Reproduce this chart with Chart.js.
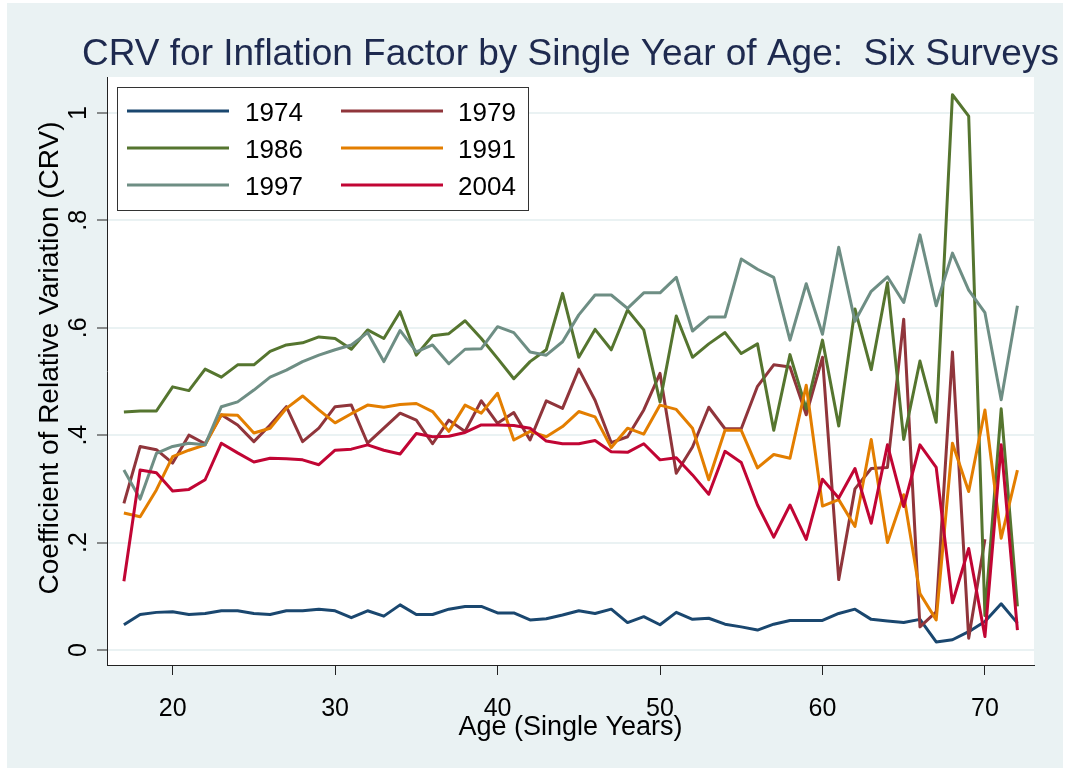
<!DOCTYPE html>
<html lang="en">
<head>
<meta charset="UTF-8">
<title>CRV for Inflation Factor by Single Year of Age</title>
<script src="https://cdn.jsdelivr.net/npm/chart.js"></script>
<style>
  html, body { margin: 0; padding: 0; background: #fff; }
  canvas { display: block; }
</style>
</head>
<body>
<canvas id="grafico" width="1070" height="769"></canvas>
<script>
  // ages 17..72, one value per single year of age
  const ages = [17, 18, 19, 20, 21, 22, 23, 24, 25, 26, 27, 28, 29, 30, 31, 32, 33, 34, 35, 36,
    37, 38, 39, 40, 41, 42, 43, 44, 45, 46, 47, 48, 49, 50, 51, 52, 53, 54, 55, 56,
    57, 58, 59, 60, 61, 62, 63, 64, 65, 66, 67, 68, 69, 70, 71, 72];

  const crv1974 = [.047, .066, .070, .071, .066, .068, .073, .073, .068, .066, .073, .073, .076, .073, .060, .073, .063, .084, .066, .066,
    .076, .081, .081, .069, .069, .056, .058, .065, .073, .068, .076, .051, .062, .047, .070, .057, .059, .048, .043, .037,
    .048, .055, .055, .055, .068, .076, .057, .054, .051, .057, .015, .019, .034, .053, .086, .050];
  // 1979 has no values past age 70
  const crv1979 = [.273, .379, .373, .348, .400, .384, .438, .419, .388, .419, .453, .388, .413, .453, .456, .385, .413, .441, .428, .384,
    .428, .407, .464, .422, .442, .391, .464, .450, .523, .465, .386, .397, .447, .515, .329, .378, .452, .412, .412, .491,
    .531, .527, .438, .545, .131, .300, .338, .340, .616, .043, .071, .555, .022, .206, null, null];
  const crv1986 = [.443, .445, .445, .490, .483, .523, .508, .531, .531, .556, .568, .572, .583, .580, .560, .596, .580, .630, .549, .585,
    .589, .613, .580, .543, .505, .537, .559, .664, .545, .597, .559, .633, .596, .462, .622, .545, .570, .591, .552, .570,
    .409, .550, .449, .577, .417, .635, .522, .684, .392, .538, .424, 1.034, .994, .064, .449, .081];
  const crv1991 = [.255, .248, .298, .360, .372, .382, .438, .437, .404, .413, .450, .473, .447, .423, .440, .456, .452, .457, .459, .444,
    .407, .456, .441, .478, .391, .407, .397, .416, .444, .434, .377, .413, .402, .456, .448, .413, .317, .409, .409, .339,
    .364, .357, .493, .268, .280, .230, .392, .200, .289, .105, .056, .385, .295, .447, .208, .335];
  const crv1997 = [.335, .281, .366, .379, .385, .382, .453, .462, .484, .508, .521, .537, .549, .559, .568, .591, .537, .595, .555, .568,
    .533, .560, .561, .602, .591, .555, .549, .574, .624, .661, .661, .636, .665, .665, .694, .594, .620, .620, .728, .709,
    .694, .577, .682, .588, .750, .612, .668, .695, .647, .773, .641, .739, .670, .628, .466, .641];
  const crv2004 = [.128, .335, .330, .296, .299, .317, .385, .367, .350, .357, .356, .354, .345, .372, .374, .382, .372, .365, .403, .397,
    .398, .405, .419, .419, .418, .413, .389, .384, .384, .390, .369, .368, .384, .354, .358, .326, .290, .370, .349, .270,
    .210, .270, .206, .318, .283, .338, .236, .382, .267, .382, .340, .088, .189, .025, .382, .037];

  const surveys = ['1974', '1979', '1986', '1991', '1997', '2004'];
  const colors = ['#1a476f', '#90353b', '#55752f', '#e37e00', '#6e8e84', '#c10534'];
  const valores = [crv1974, crv1979, crv1986, crv1991, crv1997, crv2004];

  const xTicks = [20, 30, 40, 50, 60, 70];
  const yTicks = [0, 0.2, 0.4, 0.6, 0.8, 1];
  const yTickLabels = ['0', '.2', '.4', '.6', '.8', '1'];

  const fundo = '#eaf2f3';
  const fonte = "'Liberation Sans', Arial, sans-serif";

  const datasets = surveys.map((nome, i) => ({
    label: nome,
    data: ages.map((a, j) => ({ x: a, y: valores[i][j] })),
    borderColor: colors[i],
    backgroundColor: colors[i],
    borderWidth: 3,
    borderJoinStyle: 'round',
    pointRadius: 0,
    tension: 0,
    spanGaps: false,
    order: surveys.length - i
  }));

  const estiloStata = {
    id: 'estiloStata',
    beforeDraw(chart) {
      const ctx = chart.ctx, a = chart.chartArea;
      ctx.save();
      ctx.fillStyle = '#fff';
      ctx.fillRect(0, 0, chart.width, chart.height);
      ctx.fillStyle = fundo;
      ctx.fillRect(7, 3, 1056, 765);
      ctx.fillStyle = '#fff';
      ctx.fillRect(a.left, a.top, a.right - a.left, a.bottom - a.top);
      ctx.restore();
    },
    afterDatasetsDraw(chart) {
      // legenda
      const ctx = chart.ctx;
      ctx.save();
      ctx.fillStyle = '#fff';
      ctx.fillRect(117, 87, 412, 124);
      ctx.strokeStyle = '#333';
      ctx.lineWidth = 1;
      ctx.strokeRect(117.5, 87.5, 411, 123);
      const rows = [111, 148, 185];
      const cols = [[127, 229, 245], [341, 443, 458]];
      ctx.font = '26px ' + fonte;
      ctx.textBaseline = 'alphabetic';
      ctx.textAlign = 'left';
      surveys.forEach((nome, i) => {
        const r = rows[Math.floor(i / 2)], c = cols[i % 2];
        ctx.strokeStyle = colors[i];
        ctx.lineWidth = 3;
        ctx.beginPath();
        ctx.moveTo(c[0], r);
        ctx.lineTo(c[1], r);
        ctx.stroke();
        ctx.fillStyle = '#000';
        ctx.fillText(nome, c[2], r + 10);
      });
      ctx.restore();
    },
    afterDraw(chart) {
      const ctx = chart.ctx, a = chart.chartArea, ys = chart.scales.y;
      ctx.save();
      // titulo
      ctx.fillStyle = '#1e2a4f';
      ctx.font = '37px ' + fonte;
      ctx.textAlign = 'center';
      ctx.textBaseline = 'alphabetic';
      ctx.fillText('CRV for Inflation Factor by Single Year of Age:  Six Surveys', (a.left + a.right) / 2, 65);
      // eixo x
      ctx.fillStyle = '#000';
      ctx.font = '27px ' + fonte;
      ctx.fillText('Age (Single Years)', (a.left + a.right) / 2, 735);
      // rotulos do eixo y
      ctx.font = '25px ' + fonte;
      ys.ticks.forEach((t, i) => {
        const y = ys.getPixelForValue(t.value);
        ctx.save();
        ctx.translate(86, y);
        ctx.rotate(-Math.PI / 2);
        ctx.fillText(yTickLabels[i], 0, 0);
        ctx.restore();
      });
      // titulo do eixo y
      ctx.font = '28px ' + fonte;
      ctx.translate(58, 358);
      ctx.rotate(-Math.PI / 2);
      ctx.fillText('Coefficient of Relative Variation (CRV)', 0, 0);
      ctx.restore();
    }
  };

  new Chart(document.getElementById('grafico'), {
    type: 'line',
    data: { datasets: datasets },
    plugins: [estiloStata],
    options: {
      responsive: false,
      animation: false,
      devicePixelRatio: 1,
      layout: { padding: { left: 0, top: 77, right: 36, bottom: 0 } },
      plugins: { legend: { display: false }, tooltip: { enabled: false } },
      scales: {
        x: {
          type: 'linear',
          min: 15.96,
          max: 73.02,
          afterBuildTicks: s => { s.ticks = xTicks.map(v => ({ value: v })); },
          afterFit: s => { s.height = 104; },
          grid: { display: true, drawOnChartArea: false, drawTicks: true, tickLength: 10, tickColor: '#222', tickWidth: 1 },
          border: { display: true, color: '#222', width: 1 },
          ticks: { color: '#000', font: { family: fonte, size: 25 }, padding: 19, maxRotation: 0 }
        },
        y: {
          type: 'linear',
          min: -0.028,
          max: 1.067,
          afterBuildTicks: s => { s.ticks = yTicks.map(v => ({ value: v })); },
          afterFit: s => { s.width = 107; },
          grid: { display: true, drawOnChartArea: true, color: fundo, lineWidth: 2, drawTicks: true, tickLength: 10, tickColor: '#222', tickWidth: 1 },
          border: { display: true, color: '#222', width: 1 },
          ticks: { display: false }
        }
      }
    }
  });
</script>
</body>
</html>
